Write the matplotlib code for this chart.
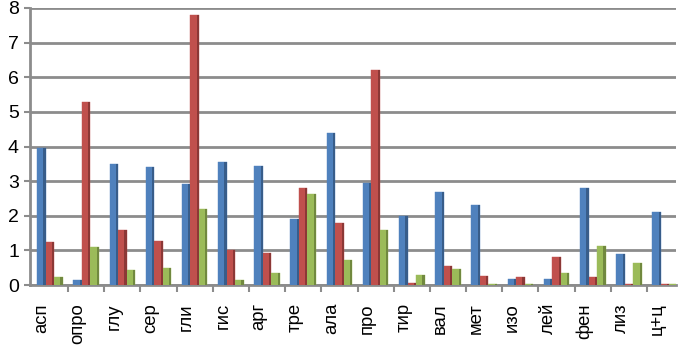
import matplotlib
matplotlib.use('Agg')
import matplotlib.pyplot as plt
import matplotlib.transforms as mtransforms
import numpy as np

# Data
categories = ['асп', 'опро', 'глу', 'сер', 'гли', 'гис', 'арг', 'тре', 'ала',
              'про', 'тир', 'вал', 'мет', 'изо', 'лей', 'фен', 'лиз', 'ц+ц']
blue_vals = [3.97, 0.15, 3.5, 3.42, 2.92, 3.56, 3.45, 1.9, 4.4,
             2.95, 2.0, 2.7, 2.3, 0.18, 0.17, 2.8, 0.9, 2.12]
red_vals = [1.25, 5.28, 1.6, 1.28, 7.8, 1.02, 0.92, 2.8, 1.8,
            6.2, 0.06, 0.56, 0.25, 0.22, 0.8, 0.22, 0.03, 0.03]
green_vals = [0.22, 1.1, 0.43, 0.5, 2.2, 0.14, 0.36, 2.62, 0.72,
              1.6, 0.3, 0.46, 0.04, 0.02, 0.35, 1.12, 0.63, 0.03]

series = [
    (blue_vals, '#4F81BD', '#385D8A'),
    (red_vals, '#C0504D', '#8C3836'),
    (green_vals, '#9BBB59', '#71893F'),
]

plt.rcParams['font.family'] = ['Liberation Sans', 'DejaVu Sans']

fig = plt.figure(figsize=(6.82, 3.49), dpi=100)
ax = fig.add_axes([30 / 682, 1 - 285 / 349, 646 / 682, 277 / 349])

x = np.arange(len(categories))
w = 0.235
side = 0.06
for k, (vals, col, dark) in enumerate(series):
    pos = x + (k - 1) * w
    ax.bar(pos, vals, width=w, color=col, edgecolor=col, linewidth=0.3, zorder=3)
    # darker right face for a bit of 3D feel
    ax.bar(pos + w / 2 - side / 2, vals, width=side, color=dark, linewidth=0, zorder=4)

ax.set_xlim(-0.55, 17.3)
ax.set_ylim(0, 8)
ax.set_yticks(range(0, 9))
ax.yaxis.grid(True, color='#8C8C8C', linewidth=2)
ax.set_axisbelow(True)

for s in ['top', 'right']:
    ax.spines[s].set_visible(False)
ax.spines['left'].set_color('#8C8C8C')
ax.spines['left'].set_linewidth(2)
ax.spines['bottom'].set_color('#8C8C8C')
ax.spines['bottom'].set_linewidth(2)

ax.tick_params(axis='y', length=4, width=1.5, color='#8C8C8C', labelsize=14, pad=4)
ax.set_xticks(x)
ax.set_xticklabels(categories, rotation=90, fontsize=13.3)
ax.tick_params(axis='x', length=0, pad=13)
ax.set_xticks(x[:-1] + 0.5, minor=True)
ax.tick_params(axis='x', which='minor', length=5, width=1.5, color='#8C8C8C')

# labels sit a little left of the bar groups, as in the 3D original
offset = mtransforms.ScaledTranslation(-8 / 100, 0, fig.dpi_scale_trans)
for lbl in ax.get_xticklabels():
    lbl.set_transform(lbl.get_transform() + offset)

fig.savefig('out.png', dpi=100)
